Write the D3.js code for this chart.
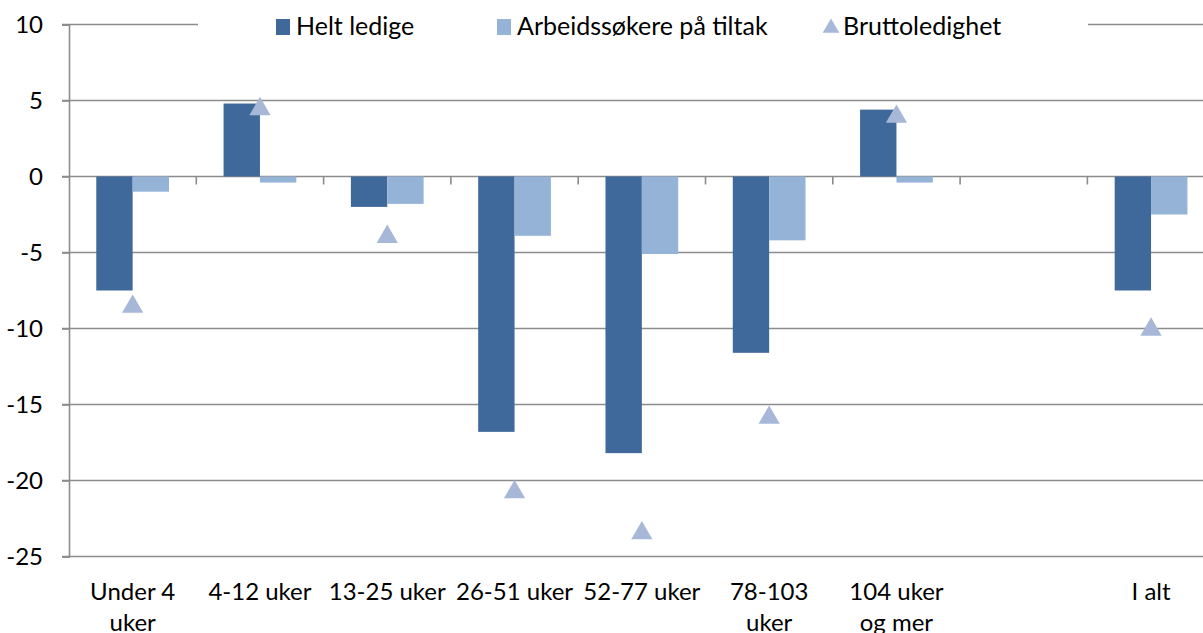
<!DOCTYPE html>
<html>
<head>
<meta charset="utf-8">
<script src="https://cdn.jsdelivr.net/npm/d3@7"></script>
<style>
  body { margin: 0; background: #fff; }
  text { font-family: Lato, "Liberation Sans", sans-serif; fill: #000; }
</style>
</head>
<body>
<svg width="1203" height="633"></svg>
<script>
// data
var categories = ["Under 4\nuker", "4-12 uker", "13-25 uker", "26-51 uker", "52-77 uker", "78-103\nuker", "104 uker\nog mer", "", "I alt"];
var heltLedige = [-7.5, 4.8, -2.0, -16.8, -18.2, -11.6, 4.4, null, -7.5];
var tiltak = [-1.0, -0.4, -1.8, -3.9, -5.1, -4.2, -0.4, null, -2.5];
var brutto = [-8.5, 4.5, -3.9, -20.7, -23.4, -15.8, 4.0, null, -10.0];
var yTicks = [10, 5, 0, -5, -10, -15, -20, -25];
var seriesNames = ["Helt ledige", "Arbeidssøkere på tiltak", "Bruttoledighet"];

var dark = "#40699b", light = "#95b3d7", tri = "#a6b7d7", grid = "#8c8c8c";
var fontSize = 24;

var svg = d3.select("svg");
var plotLeft = 69, plotTop = 24.5, plotBottom = 556.5;
var bandW = 127.3;

var xScale = d3.scaleBand().domain(d3.range(categories.length))
    .range([plotLeft, plotLeft + bandW * categories.length]).padding(0);
var yScale = d3.scaleLinear().domain([-25, 10]).range([plotBottom, plotTop]);
var barW = xScale.bandwidth() / 3.5;

// gridlines
svg.append("g").selectAll("line").data(yTicks).enter().append("line")
  .attr("x1", plotLeft - 7).attr("x2", 1203)
  .attr("y1", function(d) { return yScale(d); })
  .attr("y2", function(d) { return yScale(d); })
  .attr("stroke", grid).attr("stroke-width", 1.6);

// y axis (plain hyphen minus like the original)
var yAxis = svg.append("g").attr("transform", "translate(" + plotLeft + ",0)")
  .call(d3.axisLeft(yScale).tickValues(yTicks).tickSize(7).tickPadding(19)
    .tickFormat(function(d) { return String(d); }));
yAxis.select(".domain").attr("stroke", grid).attr("stroke-width", 1.6);
yAxis.selectAll(".tick line").attr("stroke", grid).attr("stroke-width", 1.6);
yAxis.selectAll("text").attr("font-size", fontSize).attr("font-family", "Lato, 'Liberation Sans', sans-serif").attr("fill", "#000");

// category ticks on the zero line
svg.append("g").selectAll("line").data(d3.range(1, categories.length)).enter().append("line")
  .attr("x1", function(i) { return xScale(i); })
  .attr("x2", function(i) { return xScale(i); })
  .attr("y1", yScale(0)).attr("y2", yScale(0) + 8)
  .attr("stroke", grid).attr("stroke-width", 1.6);

// bars
function drawBars(values, color, offset) {
  svg.append("g").selectAll("rect")
    .data(values.map(function(v, i) { return {i: i, v: v}; }).filter(function(d) { return d.v !== null; }))
    .enter().append("rect")
    .attr("x", function(d) { return xScale(d.i) + xScale.bandwidth() / 2 + offset; })
    .attr("width", barW)
    .attr("y", function(d) { return yScale(Math.max(0, d.v)); })
    .attr("height", function(d) { return Math.abs(yScale(d.v) - yScale(0)); })
    .attr("fill", color);
}
drawBars(heltLedige, dark, -barW);
drawBars(tiltak, light, 0);

// triangles
var triPath = d3.symbol().type(d3.symbolTriangle).size(195);
svg.append("g").selectAll("path")
  .data(brutto.map(function(v, i) { return {i: i, v: v}; }).filter(function(d) { return d.v !== null; }))
  .enter().append("path")
  .attr("d", triPath)
  .attr("transform", function(d) {
    return "translate(" + (xScale(d.i) + xScale.bandwidth() / 2) + "," + (yScale(d.v) + 1) + ")";
  })
  .attr("fill", tri);

// x labels
var xLab = svg.append("g").selectAll("text").data(d3.range(categories.length)).enter().append("text")
  .attr("text-anchor", "middle")
  .attr("font-size", fontSize)
  .attr("x", function(i) { return xScale(i) + xScale.bandwidth() / 2; })
  .attr("y", 600);
xLab.each(function(i) {
  var lines = categories[i].split("\n");
  var t = d3.select(this);
  lines.forEach(function(l, k) {
    t.append("tspan").attr("x", xScale(i) + xScale.bandwidth() / 2).attr("dy", k === 0 ? 0 : 31).text(l);
  });
});

// legend
var leg = svg.append("g");
leg.append("rect").attr("x", 198).attr("y", 5).attr("width", 890).attr("height", 40).attr("fill", "#fff");
var legX = [276, 497, 823];
leg.append("rect").attr("x", legX[0]).attr("y", 19).attr("width", 14).attr("height", 16).attr("fill", dark);
leg.append("rect").attr("x", legX[1]).attr("y", 19).attr("width", 14).attr("height", 16).attr("fill", light);
leg.append("path").attr("d", d3.symbol().type(d3.symbolTriangle).size(120))
  .attr("transform", "translate(" + (legX[2] + 8) + ",28)").attr("fill", tri);
seriesNames.forEach(function(s, k) {
  leg.append("text").attr("x", legX[k] + 20).attr("y", 35).attr("font-size", 25).text(s);
});
</script>
</body>
</html>
